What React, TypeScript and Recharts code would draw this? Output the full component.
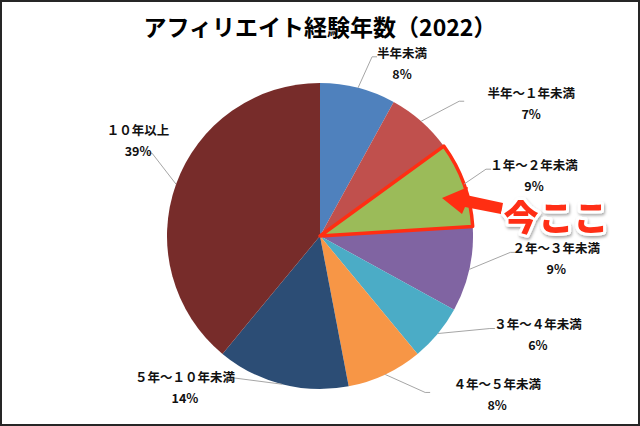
import React from 'react';
import { PieChart, Pie, Cell } from 'recharts';

const categories = [
  '半年未満',
  '半年～１年未満',
  '１年～２年未満',
  '２年～３年未満',
  '３年～４年未満',
  '４年～５年未満',
  '５年～１０年未満',
  '１０年以上',
];
const shares = [8, 7, 9, 9, 6, 8, 14, 39];
const colors = ['#4F81BD', '#C0504D', '#9BBB59', '#8064A2', '#4BACC6', '#F79646', '#2C4D75', '#772C2A'];
const titleText = 'アフィリエイト経験年数（2022）';
const calloutText = '今ここ';
const highlightIndex = 2;

// label layout: text centre offset from the slice edge point, and leader-line end offset from text centre
const labelOffsets = [[44, -35], [110, -29], [70, -20], [87, -22], [100, -10], [112, 9], [-97, -8], [-38, -55]];
const leaderEnds = [[-30, 4], [-72, 9], [-48, 5], [-46, 5], [-48, 5], [-72, 9], [51, 2], [14, 24]];

const data = categories.map((name, i) => ({ name, value: shares[i] }));
const RAD = Math.PI / 180;
const FONT = '"Noto Sans CJK JP", "Noto Sans", sans-serif';

function renderLabel(props: any) {
  const { cx, cy, midAngle, outerRadius, index } = props;
  const ex = cx + outerRadius * Math.cos(-midAngle * RAD);
  const ey = cy + outerRadius * Math.sin(-midAngle * RAD);
  const [dx, dy] = labelOffsets[index];
  const tx = ex + dx;
  const ty = ey + dy;
  const [lx, ly] = leaderEnds[index];
  const ax = tx + lx;
  const ay = ty + ly;
  const hook = lx < 0 ? 5 : -5;
  return (
    <g key={`lbl-${index}`}>
      <polyline
        points={`${ex},${ey} ${ax},${ay} ${ax + hook},${ay}`}
        fill="none"
        stroke="#A6A6A6"
        strokeWidth={1}
      />
      <text x={tx} y={ty} textAnchor="middle" dominantBaseline="central" fontFamily={FONT} fontWeight={700} fontSize={12.5} fill="#111">
        {categories[index]}
      </text>
      <text x={tx} y={ty + 21} textAnchor="middle" dominantBaseline="central" fontFamily={FONT} fontWeight={700} fontSize={12.5} fill="#111">
        {shares[index]}%
      </text>
    </g>
  );
}

export default function App() {
  return (
    <div style={{ position: 'fixed', left: 0, top: 0, width: 640, height: 426, background: '#fff', overflow: 'hidden' }}>
      <div style={{ position: 'absolute', left: 0, top: 0 }}>
        <PieChart width={640} height={426} margin={{ top: 0, right: 0, bottom: 0, left: 0 }}>
          <Pie
            data={data}
            dataKey="value"
            nameKey="name"
            cx={320}
            cy={236}
            outerRadius={153}
            startAngle={90}
            endAngle={-270}
            stroke="none"
            label={renderLabel}
            labelLine={false}
            isAnimationActive={false}
          >
            {data.map((d, i) => (
              <Cell key={d.name} fill={colors[i]} stroke="none" />
            ))}
          </Pie>
          <Pie
            data={data}
            dataKey="value"
            nameKey="name"
            cx={320}
            cy={236}
            outerRadius={153}
            startAngle={90}
            endAngle={-270}
            fill="none"
            stroke="none"
            label={false}
            labelLine={false}
            isAnimationActive={false}
          >
            {data.map((d, i) => (
              <Cell
                key={`hl-${d.name}`}
                fill="none"
                stroke={i === highlightIndex ? '#FF2E12' : 'none'}
                strokeWidth={i === highlightIndex ? 3.5 : 0}
                strokeLinejoin="round"
              />
            ))}
          </Pie>
        </PieChart>
      </div>
      <svg width={640} height={426} style={{ position: 'absolute', left: 0, top: 0, pointerEvents: 'none' }}>
        <defs>
          <filter id="sh" x="-20%" y="-20%" width="140%" height="160%">
            <feDropShadow dx="1" dy="2" stdDeviation="1.5" floodColor="#000" floodOpacity="0.35" />
          </filter>
        </defs>
        <text x={320} y={36} textAnchor="middle" fontFamily={FONT} fontWeight={700} fontSize={23} fill="#000">
          {titleText}
        </text>
        <polygon
          points="442,198 468,187 466,195 503,203 501,214 465,207 462,214"
          fill="#FF2E12"
        />
        <text
          x={556}
          y={231}
          textAnchor="middle"
          fontFamily={FONT}
          fontWeight={900}
          fontSize={35}
          fill="#FF2E12"
          stroke="#fff"
          strokeWidth={6}
          strokeLinejoin="round"
          paintOrder="stroke"
          filter="url(#sh)"
        >
          {calloutText}
        </text>
      </svg>
      <div style={{ position: 'absolute', inset: 0, border: '2px solid #262626', boxSizing: 'border-box', pointerEvents: 'none' }} />
    </div>
  );
}
